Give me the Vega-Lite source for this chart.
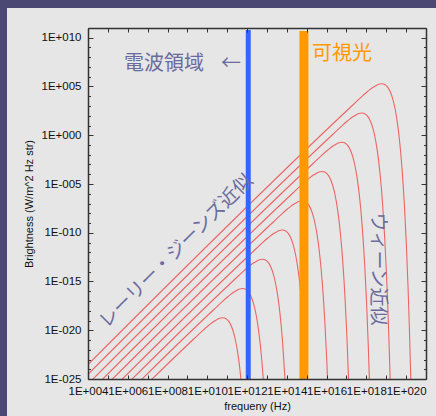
{
  "$schema": "https://vega.github.io/schema/vega-lite/v6.json",
  "width": 338,
  "height": 351,
  "autosize": "none",
  "padding": {"left": 88, "top": 28, "right": 10, "bottom": 37},
  "background": "#e6e6e6",
  "config": {
    "view": {"stroke": null},
    "axis": {
      "zindex": 1, "grid": false,
      "labelFont": "Liberation Sans", "labelFontSize": 11.5, "labelColor": "#111111",
      "titleFont": "Liberation Sans", "titleFontSize": 11, "titleFontWeight": "normal", "titleColor": "#111111",
      "domainColor": "#333333", "domainWidth": 1.5, "tickColor": "#333333", "tickWidth": 1
    }
  },
  "datasets": {
    "planck": [
      {"T":1,"nu":1e4,"B":3.0724e-32},
      {"T":1,"nu":2.0837e9,"B":1.2683e-21},
      {"T":1,"nu":6.2511e9,"B":1.0294e-20},
      {"T":1,"nu":1.0419e10,"B":2.5703e-20},
      {"T":1,"nu":1.4586e10,"B":4.5132e-20},
      {"T":1,"nu":2.0837e10,"B":7.7630e-20},
      {"T":1,"nu":3.1256e10,"B":1.2930e-19},
      {"T":1,"nu":4.1674e10,"B":1.6702e-19},
      {"T":1,"nu":5.8760e10,"B":1.8960e-19},
      {"T":1,"nu":7.2930e10,"B":1.7808e-19},
      {"T":1,"nu":9.3767e10,"B":1.3655e-19},
      {"T":1,"nu":1.2502e11,"B":7.1596e-20},
      {"T":1,"nu":1.6670e11,"B":2.2918e-20},
      {"T":1,"nu":2.0837e11,"B":6.0561e-21},
      {"T":1,"nu":2.7088e11,"B":6.6240e-22},
      {"T":1,"nu":3.3339e11,"B":6.1490e-23},
      {"T":1,"nu":4.1674e11,"B":2.1995e-24},
      {"T":1,"nu":5.2093e11,"B":2.8947e-26},

      {"T":10,"nu":1e4,"B":3.0724e-31},
      {"T":10,"nu":2.0837e10,"B":1.2683e-18},
      {"T":10,"nu":6.2511e10,"B":1.0294e-17},
      {"T":10,"nu":1.0419e11,"B":2.5703e-17},
      {"T":10,"nu":1.4586e11,"B":4.5132e-17},
      {"T":10,"nu":2.0837e11,"B":7.7630e-17},
      {"T":10,"nu":3.1256e11,"B":1.2930e-16},
      {"T":10,"nu":4.1674e11,"B":1.6702e-16},
      {"T":10,"nu":5.8760e11,"B":1.8960e-16},
      {"T":10,"nu":7.2930e11,"B":1.7808e-16},
      {"T":10,"nu":9.3767e11,"B":1.3655e-16},
      {"T":10,"nu":1.2502e12,"B":7.1596e-17},
      {"T":10,"nu":1.6670e12,"B":2.2918e-17},
      {"T":10,"nu":2.0837e12,"B":6.0561e-18},
      {"T":10,"nu":2.7088e12,"B":6.6240e-19},
      {"T":10,"nu":3.3339e12,"B":6.1490e-20},
      {"T":10,"nu":4.1674e12,"B":2.1995e-21},
      {"T":10,"nu":5.2093e12,"B":2.8947e-23},
      {"T":10,"nu":6.2511e12,"B":3.3712e-25},
      {"T":10,"nu":8.3348e12,"B":3.6271e-29},

      {"T":100,"nu":1e4,"B":3.0724e-30},
      {"T":100,"nu":2.0837e11,"B":1.2683e-15},
      {"T":100,"nu":6.2511e11,"B":1.0294e-14},
      {"T":100,"nu":1.0419e12,"B":2.5703e-14},
      {"T":100,"nu":1.4586e12,"B":4.5132e-14},
      {"T":100,"nu":2.0837e12,"B":7.7630e-14},
      {"T":100,"nu":3.1256e12,"B":1.2930e-13},
      {"T":100,"nu":4.1674e12,"B":1.6702e-13},
      {"T":100,"nu":5.8760e12,"B":1.8960e-13},
      {"T":100,"nu":7.2930e12,"B":1.7808e-13},
      {"T":100,"nu":9.3767e12,"B":1.3655e-13},
      {"T":100,"nu":1.2502e13,"B":7.1596e-14},
      {"T":100,"nu":1.6670e13,"B":2.2918e-14},
      {"T":100,"nu":2.0837e13,"B":6.0561e-15},
      {"T":100,"nu":2.7088e13,"B":6.6240e-16},
      {"T":100,"nu":3.3339e13,"B":6.1490e-17},
      {"T":100,"nu":4.1674e13,"B":2.1995e-18},
      {"T":100,"nu":5.2093e13,"B":2.8947e-20},
      {"T":100,"nu":6.2511e13,"B":3.3712e-22},
      {"T":100,"nu":8.3348e13,"B":3.6271e-26},

      {"T":1000,"nu":1e4,"B":3.0724e-29},
      {"T":1000,"nu":2.0837e12,"B":1.2683e-12},
      {"T":1000,"nu":6.2511e12,"B":1.0294e-11},
      {"T":1000,"nu":1.0419e13,"B":2.5703e-11},
      {"T":1000,"nu":1.4586e13,"B":4.5132e-11},
      {"T":1000,"nu":2.0837e13,"B":7.7630e-11},
      {"T":1000,"nu":3.1256e13,"B":1.2930e-10},
      {"T":1000,"nu":4.1674e13,"B":1.6702e-10},
      {"T":1000,"nu":5.8760e13,"B":1.8960e-10},
      {"T":1000,"nu":7.2930e13,"B":1.7808e-10},
      {"T":1000,"nu":9.3767e13,"B":1.3655e-10},
      {"T":1000,"nu":1.2502e14,"B":7.1596e-11},
      {"T":1000,"nu":1.6670e14,"B":2.2918e-11},
      {"T":1000,"nu":2.0837e14,"B":6.0561e-12},
      {"T":1000,"nu":2.7088e14,"B":6.6240e-13},
      {"T":1000,"nu":3.3339e14,"B":6.1490e-14},
      {"T":1000,"nu":4.1674e14,"B":2.1995e-15},
      {"T":1000,"nu":5.2093e14,"B":2.8947e-17},
      {"T":1000,"nu":6.2511e14,"B":3.3712e-19},
      {"T":1000,"nu":8.3348e14,"B":3.6271e-23},
      {"T":1000,"nu":1.0419e15,"B":3.2164e-27},

      {"T":10000,"nu":1e4,"B":3.0724e-28},
      {"T":10000,"nu":2.0837e13,"B":1.2683e-9},
      {"T":10000,"nu":6.2511e13,"B":1.0294e-8},
      {"T":10000,"nu":1.0419e14,"B":2.5703e-8},
      {"T":10000,"nu":1.4586e14,"B":4.5132e-8},
      {"T":10000,"nu":2.0837e14,"B":7.7630e-8},
      {"T":10000,"nu":3.1256e14,"B":1.2930e-7},
      {"T":10000,"nu":4.1674e14,"B":1.6702e-7},
      {"T":10000,"nu":5.8760e14,"B":1.8960e-7},
      {"T":10000,"nu":7.2930e14,"B":1.7808e-7},
      {"T":10000,"nu":9.3767e14,"B":1.3655e-7},
      {"T":10000,"nu":1.2502e15,"B":7.1596e-8},
      {"T":10000,"nu":1.6670e15,"B":2.2918e-8},
      {"T":10000,"nu":2.0837e15,"B":6.0561e-9},
      {"T":10000,"nu":2.7088e15,"B":6.6240e-10},
      {"T":10000,"nu":3.3339e15,"B":6.1490e-11},
      {"T":10000,"nu":4.1674e15,"B":2.1995e-12},
      {"T":10000,"nu":5.2093e15,"B":2.8947e-14},
      {"T":10000,"nu":6.2511e15,"B":3.3712e-16},
      {"T":10000,"nu":8.3348e15,"B":3.6271e-20},
      {"T":10000,"nu":1.0419e16,"B":3.2164e-24},
      {"T":10000,"nu":1.2502e16,"B":2.5232e-28},

      {"T":100000,"nu":1e4,"B":3.0724e-27},
      {"T":100000,"nu":2.0837e14,"B":1.2683e-6},
      {"T":100000,"nu":6.2511e14,"B":1.0294e-5},
      {"T":100000,"nu":1.0419e15,"B":2.5703e-5},
      {"T":100000,"nu":1.4586e15,"B":4.5132e-5},
      {"T":100000,"nu":2.0837e15,"B":7.7630e-5},
      {"T":100000,"nu":3.1256e15,"B":1.2930e-4},
      {"T":100000,"nu":4.1674e15,"B":1.6702e-4},
      {"T":100000,"nu":5.8760e15,"B":1.8960e-4},
      {"T":100000,"nu":7.2930e15,"B":1.7808e-4},
      {"T":100000,"nu":9.3767e15,"B":1.3655e-4},
      {"T":100000,"nu":1.2502e16,"B":7.1596e-5},
      {"T":100000,"nu":1.6670e16,"B":2.2918e-5},
      {"T":100000,"nu":2.0837e16,"B":6.0561e-6},
      {"T":100000,"nu":2.7088e16,"B":6.6240e-7},
      {"T":100000,"nu":3.3339e16,"B":6.1490e-8},
      {"T":100000,"nu":4.1674e16,"B":2.1995e-9},
      {"T":100000,"nu":5.2093e16,"B":2.8947e-11},
      {"T":100000,"nu":6.2511e16,"B":3.3712e-13},
      {"T":100000,"nu":8.3348e16,"B":3.6271e-17},
      {"T":100000,"nu":1.0419e17,"B":3.2164e-21},
      {"T":100000,"nu":1.2502e17,"B":2.5232e-25},
      {"T":100000,"nu":1.4586e17,"B":1.8189e-29},

      {"T":1000000,"nu":1e4,"B":3.0724e-26},
      {"T":1000000,"nu":2.0837e15,"B":1.2683e-3},
      {"T":1000000,"nu":6.2511e15,"B":1.0294e-2},
      {"T":1000000,"nu":1.0419e16,"B":2.5703e-2},
      {"T":1000000,"nu":1.4586e16,"B":4.5132e-2},
      {"T":1000000,"nu":2.0837e16,"B":7.7630e-2},
      {"T":1000000,"nu":3.1256e16,"B":1.2930e-1},
      {"T":1000000,"nu":4.1674e16,"B":1.6702e-1},
      {"T":1000000,"nu":5.8760e16,"B":1.8960e-1},
      {"T":1000000,"nu":7.2930e16,"B":1.7808e-1},
      {"T":1000000,"nu":9.3767e16,"B":1.3655e-1},
      {"T":1000000,"nu":1.2502e17,"B":7.1596e-2},
      {"T":1000000,"nu":1.6670e17,"B":2.2918e-2},
      {"T":1000000,"nu":2.0837e17,"B":6.0561e-3},
      {"T":1000000,"nu":2.7088e17,"B":6.6240e-4},
      {"T":1000000,"nu":3.3339e17,"B":6.1490e-5},
      {"T":1000000,"nu":4.1674e17,"B":2.1995e-6},
      {"T":1000000,"nu":5.2093e17,"B":2.8947e-8},
      {"T":1000000,"nu":6.2511e17,"B":3.3712e-10},
      {"T":1000000,"nu":8.3348e17,"B":3.6271e-14},
      {"T":1000000,"nu":1.0419e18,"B":3.2164e-18},
      {"T":1000000,"nu":1.2502e18,"B":2.5232e-22},
      {"T":1000000,"nu":1.4586e18,"B":1.8189e-26},

      {"T":10000000,"nu":1e4,"B":3.0724e-25},
      {"T":10000000,"nu":2.0837e16,"B":1.2683},
      {"T":10000000,"nu":6.2511e16,"B":1.0294e1},
      {"T":10000000,"nu":1.0419e17,"B":2.5703e1},
      {"T":10000000,"nu":1.4586e17,"B":4.5132e1},
      {"T":10000000,"nu":2.0837e17,"B":7.7630e1},
      {"T":10000000,"nu":3.1256e17,"B":1.2930e2},
      {"T":10000000,"nu":4.1674e17,"B":1.6702e2},
      {"T":10000000,"nu":5.8760e17,"B":1.8960e2},
      {"T":10000000,"nu":7.2930e17,"B":1.7808e2},
      {"T":10000000,"nu":9.3767e17,"B":1.3655e2},
      {"T":10000000,"nu":1.2502e18,"B":7.1596e1},
      {"T":10000000,"nu":1.6670e18,"B":2.2918e1},
      {"T":10000000,"nu":2.0837e18,"B":6.0561},
      {"T":10000000,"nu":2.7088e18,"B":6.6240e-1},
      {"T":10000000,"nu":3.3339e18,"B":6.1490e-2},
      {"T":10000000,"nu":4.1674e18,"B":2.1995e-3},
      {"T":10000000,"nu":5.2093e18,"B":2.8947e-5},
      {"T":10000000,"nu":6.2511e18,"B":3.3712e-7},
      {"T":10000000,"nu":8.3348e18,"B":3.6271e-11},
      {"T":10000000,"nu":1.0419e19,"B":3.2164e-15},
      {"T":10000000,"nu":1.2502e19,"B":2.5232e-19},
      {"T":10000000,"nu":1.4586e19,"B":1.8189e-23},
      {"T":10000000,"nu":1.7712e19,"B":9.9622e-30},

      {"T":100000000,"nu":1e4,"B":3.0724e-24},
      {"T":100000000,"nu":2.0837e17,"B":1.2683e3},
      {"T":100000000,"nu":6.2511e17,"B":1.0294e4},
      {"T":100000000,"nu":1.0419e18,"B":2.5703e4},
      {"T":100000000,"nu":1.4586e18,"B":4.5132e4},
      {"T":100000000,"nu":2.0837e18,"B":7.7630e4},
      {"T":100000000,"nu":3.1256e18,"B":1.2930e5},
      {"T":100000000,"nu":4.1674e18,"B":1.6702e5},
      {"T":100000000,"nu":5.8760e18,"B":1.8960e5},
      {"T":100000000,"nu":7.2930e18,"B":1.7808e5},
      {"T":100000000,"nu":9.3767e18,"B":1.3655e5},
      {"T":100000000,"nu":1.2502e19,"B":7.1596e4},
      {"T":100000000,"nu":1.6670e19,"B":2.2918e4},
      {"T":100000000,"nu":2.0837e19,"B":6.0561e3},
      {"T":100000000,"nu":2.7088e19,"B":6.6240e2},
      {"T":100000000,"nu":3.3339e19,"B":6.1490e1},
      {"T":100000000,"nu":4.1674e19,"B":2.1995},
      {"T":100000000,"nu":5.2093e19,"B":2.8947e-2},
      {"T":100000000,"nu":6.2511e19,"B":3.3712e-4},
      {"T":100000000,"nu":8.3348e19,"B":3.6271e-8},
      {"T":100000000,"nu":1.0419e20,"B":3.2164e-12},
      {"T":100000000,"nu":1.2502e20,"B":2.5232e-16},
      {"T":100000000,"nu":1.4586e20,"B":1.8189e-20},
      {"T":100000000,"nu":1.7712e20,"B":9.9622e-27}
    ]
  },
  "layer": [
    {
      "data": {"values": [{}]},
      "mark": {"type": "rect", "color": "#4b4974"},
      "encoding": {
        "x": {"datum": 1e-3, "type": "quantitative", "scale": {"type": "log", "domain": [1e4, 1e21], "nice": false}, "axis": null},
        "x2": {"datum": 0.843},
        "y": {"datum": 1e-30, "type": "quantitative", "scale": {"type": "log", "domain": [1e-25, 1e11], "nice": false}, "axis": null},
        "y2": {"datum": 1e20}
      }
    },
    {
      "data": {"values": [{}]},
      "mark": {"type": "rect", "color": "#4b4974"},
      "encoding": {
        "x": {"datum": 1e-3, "type": "quantitative", "scale": {"type": "log", "domain": [1e4, 1e21], "nice": false}, "axis": null},
        "x2": {"datum": 1e23},
        "y": {"datum": 1.12e13, "type": "quantitative", "scale": {"type": "log", "domain": [1e-25, 1e11], "nice": false}, "axis": null},
        "y2": {"datum": 1e20}
      }
    },
    {
      "data": {"name": "planck"},
      "mark": {"type": "line", "color": "#ee6464", "strokeWidth": 1.1, "clip": true, "interpolate": "monotone"},
      "encoding": {
        "x": {"field": "nu", "type": "quantitative", "scale": {"type": "log", "domain": [1e4, 1e21], "nice": false},
          "axis": {"orient": "bottom", "zindex": 1, "values": [1e4,1e5,1e6,1e7,1e8,1e9,1e10,1e11,1e12,1e13,1e14,1e15,1e16,1e17,1e18,1e19,1e20,1e21],
            "tickSize": -4, "labelPadding": 10, "labelFlush": false, "labelOverlap": false,
            "labelExpr": "round(log(datum.value)/LN10) % 2 == 0 ? '1E+' + (round(log(datum.value)/LN10) < 10 ? '00' : '0') + round(log(datum.value)/LN10) : ''",
            "title": "frequeny (Hz)", "titlePadding": 4}},
        "y": {"field": "B", "type": "quantitative", "scale": {"type": "log", "domain": [1e-25, 1e11], "nice": false},
          "axis": {"orient": "left", "zindex": 1, "values": [1e-25,1e-20,1e-15,1e-10,1e-5,1,1e5,1e10],
            "tickSize": -5, "labelPadding": 12, "labelOverlap": false,
            "labelExpr": "'1E' + (datum.value < 1 ? '-' : '+') + (abs(round(log(datum.value)/LN10)) < 10 ? '00' : '0') + abs(round(log(datum.value)/LN10))",
            "title": "Brightness (W/m^2 Hz str)", "titlePadding": 7}},
        "detail": {"field": "T", "type": "nominal"}
      }
    },
    {
      "data": {"values": [{}]},
      "mark": {"type": "rule", "color": "#3366ff", "strokeWidth": 5},
      "encoding": {
        "x": {"datum": 1.148e12, "type": "quantitative", "scale": {"type": "log", "domain": [1e4, 1e21], "nice": false},
          "axis": {"orient": "top", "zindex": 1, "values": [1e4,1e5,1e6,1e7,1e8,1e9,1e10,1e11,1e12,1e13,1e14,1e15,1e16,1e17,1e18,1e19,1e20,1e21],
            "tickSize": -4, "labels": false, "title": null}},
        "y": {"datum": 1e-25, "type": "quantitative", "scale": {"type": "log", "domain": [1e-25, 1e11], "nice": false},
          "axis": {"orient": "left", "zindex": 1, "values": [1e-25,1e-24,1e-23,1e-22,1e-21,1e-20,1e-19,1e-18,1e-17,1e-16,1e-15,1e-14,1e-13,1e-12,1e-11,1e-10,1e-9,1e-8,1e-7,1e-6,1e-5,1e-4,1e-3,1e-2,1e-1,1,1e1,1e2,1e3,1e4,1e5,1e6,1e7,1e8,1e9,1e10,1e11],
            "tickSize": -2.5, "labels": false, "domain": false, "title": null}},
        "y2": {"datum": 6.24e10}
      }
    },
    {
      "data": {"values": [{}]},
      "mark": {"type": "rule", "color": "#ff9900", "strokeWidth": 9},
      "encoding": {
        "x": {"datum": 7.24e14, "type": "quantitative", "scale": {"type": "log", "domain": [1e4, 1e21], "nice": false}, "axis": null},
        "y": {"datum": 1e-25, "type": "quantitative", "scale": {"type": "log", "domain": [1e-25, 1e11], "nice": false},
          "axis": {"orient": "right", "zindex": 1, "values": [1e-25,1e-20,1e-15,1e-10,1e-5,1,1e5,1e10],
            "tickSize": -5, "labels": false, "title": null}},
        "y2": {"datum": 4.9e10}
      }
    },
    {
      "data": {"values": [{}]},
      "mark": {"type": "text", "text": "電波領域", "font": "Noto Sans CJK JP", "fontSize": 20, "color": "#6b6b9e", "align": "center", "baseline": "middle"},
      "encoding": {
        "x": {"datum": 6.65e7, "type": "quantitative", "scale": {"type": "log", "domain": [1e4, 1e21], "nice": false}, "axis": null},
        "y": {"datum": 2.03e7, "type": "quantitative", "scale": {"type": "log", "domain": [1e-25, 1e11], "nice": false},
          "axis": {"orient": "right", "zindex": 1, "values": [1e-25,1e-24,1e-23,1e-22,1e-21,1e-20,1e-19,1e-18,1e-17,1e-16,1e-15,1e-14,1e-13,1e-12,1e-11,1e-10,1e-9,1e-8,1e-7,1e-6,1e-5,1e-4,1e-3,1e-2,1e-1,1,1e1,1e2,1e3,1e4,1e5,1e6,1e7,1e8,1e9,1e10,1e11],
            "tickSize": -2.5, "labels": false, "domain": false, "title": null}}
      }
    },
    {
      "data": {"values": [{}]},
      "mark": {"type": "text", "text": "←", "font": "Noto Sans CJK JP", "fontSize": 20, "color": "#6b6b9e", "align": "center", "baseline": "middle"},
      "encoding": {
        "x": {"datum": 1.56e11, "type": "quantitative", "scale": {"type": "log", "domain": [1e4, 1e21], "nice": false}, "axis": null},
        "y": {"datum": 2.03e7, "type": "quantitative", "scale": {"type": "log", "domain": [1e-25, 1e11], "nice": false}, "axis": null}
      }
    },
    {
      "data": {"values": [{}]},
      "mark": {"type": "text", "text": "可視光", "font": "Noto Sans CJK JP", "fontSize": 20, "color": "#ff9900", "align": "center", "baseline": "middle"},
      "encoding": {
        "x": {"datum": 5.98e16, "type": "quantitative", "scale": {"type": "log", "domain": [1e4, 1e21], "nice": false}, "axis": null},
        "y": {"datum": 2.15e8, "type": "quantitative", "scale": {"type": "log", "domain": [1e-25, 1e11], "nice": false}, "axis": null}
      }
    },
    {
      "data": {"values": [{}]},
      "mark": {"type": "text", "text": "レーリー・ジーンズ近似", "font": "Noto Sans CJK JP", "fontSize": 19, "color": "#6b6b9e", "align": "center", "baseline": "middle", "angle": 315},
      "encoding": {
        "x": {"datum": 2.67e8, "type": "quantitative", "scale": {"type": "log", "domain": [1e4, 1e21], "nice": false}, "axis": null},
        "y": {"datum": 1.34e-12, "type": "quantitative", "scale": {"type": "log", "domain": [1e-25, 1e11], "nice": false}, "axis": null}
      }
    },
    {
      "data": {"values": [{}]},
      "mark": {"type": "text", "text": "ウィーン近似", "font": "Noto Sans CJK JP", "fontSize": 19, "color": "#6b6b9e", "align": "center", "baseline": "middle", "angle": 90},
      "encoding": {
        "x": {"datum": 3.86e18, "type": "quantitative", "scale": {"type": "log", "domain": [1e4, 1e21], "nice": false}, "axis": null},
        "y": {"datum": 1.91e-14, "type": "quantitative", "scale": {"type": "log", "domain": [1e-25, 1e11], "nice": false}, "axis": null}
      }
    }
  ],
  "resolve": {"axis": {"x": "independent", "y": "independent"}}
}
